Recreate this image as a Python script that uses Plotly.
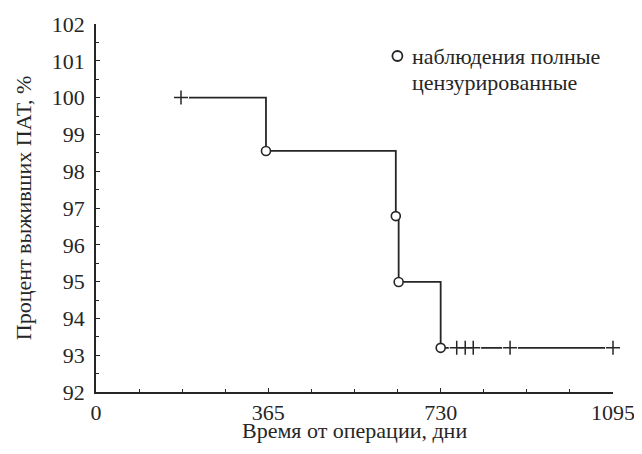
import plotly.graph_objects as go

# Kaplan-Meier data (days, survival %)
event_days = [360, 635, 641, 730]
event_surv = [98.55, 96.78, 94.99, 93.2]
censor_days = [180, 764, 782, 799, 877, 1095]
censor_surv = [100, 93.2, 93.2, 93.2, 93.2, 93.2]
x_ticks = [0, 365, 730, 1095]
y_ticks = [92, 93, 94, 95, 96, 97, 98, 99, 100, 101, 102]
legend_labels = ["наблюдения полные", "цензурированные"]
x_title = "Время от операции, дни"
y_title = "Процент выживших ПАТ, %"

# step curve built from the data
step_x = [censor_days[0]] + event_days + [censor_days[-1]]
step_y = [censor_surv[0]] + event_surv + [event_surv[-1]]

ink = "#262626"
font_family = "Liberation Serif"

fig = go.Figure()
fig.add_trace(go.Scatter(x=step_x, y=step_y, mode="lines", line=dict(shape="hv", color=ink, width=1.8),
                         showlegend=False, hoverinfo="skip", cliponaxis=False))
# white halo around censored marks
fig.add_trace(go.Scatter(x=censor_days, y=censor_surv, mode="markers",
                         marker=dict(symbol="circle", size=16, color="white", line=dict(width=0)),
                         showlegend=False, hoverinfo="skip", cliponaxis=False))
fig.add_trace(go.Scatter(x=censor_days, y=censor_surv, mode="markers", name=legend_labels[1],
                         marker=dict(symbol="cross-thin", size=10, color=ink, line=dict(width=1.5, color=ink)),
                         showlegend=False, cliponaxis=False))
fig.add_trace(go.Scatter(x=event_days, y=event_surv, mode="markers", name=legend_labels[0],
                         marker=dict(symbol="circle", size=9, color="white", line=dict(width=1.6, color=ink)),
                         showlegend=False, cliponaxis=False))

# legend (drawn as text + glyph)
leg_x_text = 0.608
leg_y = [0.913, 0.840]
for lbl, yy in zip(legend_labels, leg_y):
    fig.add_annotation(x=leg_x_text, y=yy, xref="paper", yref="paper", xanchor="left", yanchor="middle",
                       text=lbl, showarrow=False, font=dict(family=font_family, size=22, color=ink))
fig.add_shape(type="circle", xref="paper", yref="paper", xsizemode="pixel", ysizemode="pixel",
              xanchor=0.583, yanchor=leg_y[0], x0=-5, x1=5, y0=-5, y1=5,
              line=dict(color=ink, width=1.8), fillcolor="white")

# x-axis title
fig.add_annotation(x=0.5, y=-0.144, xref="paper", yref="paper", xanchor="center", yanchor="bottom",
                   text=x_title, showarrow=False, font=dict(family=font_family, size=22, color=ink))

axis_common = dict(showline=True, linecolor=ink, linewidth=1.5, ticks="inside", ticklen=4,
                   tickcolor=ink, tickwidth=1, showgrid=False, zeroline=False,
                   tickfont=dict(family=font_family, size=22, color=ink),
                   mirror=False, automargin=False, ticklabeloverflow="allow")

fig.update_layout(
    width=626, height=438,
    margin=dict(l=88, r=21, t=16, b=54),
    paper_bgcolor="white", plot_bgcolor="white",
    font=dict(family=font_family, color=ink, size=22),
    xaxis=dict(range=[0, 1095], tickmode="array", tickvals=x_ticks, ticktext=[str(v) for v in x_ticks],
               minor=dict(tickmode="linear", tick0=0, dtick=91.25, ticks="inside", ticklen=3, tickcolor=ink),
               **axis_common),
    yaxis=dict(range=[92, 102], tickmode="array", tickvals=y_ticks, ticktext=[str(v) for v in y_ticks],
               minor=dict(tickmode="linear", tick0=92, dtick=0.5, ticks="inside", ticklen=3, tickcolor=ink),
               title=dict(text=y_title, font=dict(family=font_family, size=22, color=ink), standoff=14),
               ticklabelstandoff=5,
               **axis_common),
    showlegend=False,
)

fig.write_html("out.html")
